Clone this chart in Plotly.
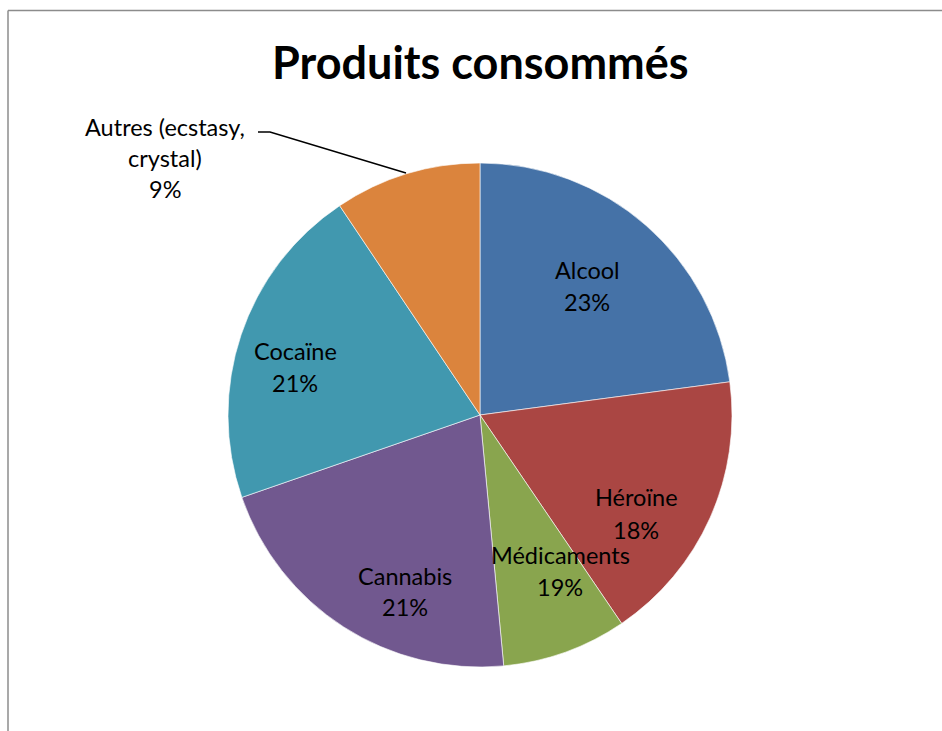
import plotly.graph_objects as go

W, H = 942, 731

categories = ["Alcool", "Héroïne", "Médicaments", "Cannabis", "Cocaïne", "Autres (ecstasy,<br>crystal)"]
values = [22.9, 17.6, 8.0, 21.2, 20.9, 9.4]
shown_pct = ["23%", "18%", "19%", "21%", "21%", "9%"]
colors = ["#4572A7", "#AA4643", "#89A54E", "#71588F", "#4198AF", "#DB843D"]

def px(x):
    return x / W

def py(y):
    return 1 - y / H

fig = go.Figure(go.Pie(
    labels=categories,
    values=values,
    sort=False,
    direction="clockwise",
    rotation=0,
    marker=dict(colors=colors, line=dict(color="rgba(255,255,255,0.6)", width=1)),
    textinfo="none",
    hoverinfo="label+value",
    domain=dict(x=[px(228), px(732)], y=[py(667), py(163)]),
    showlegend=False,
))

# label placement (pixel positions of each line of the data labels)
label_lines = [
    (["Alcool", shown_pct[0]], 587, [270, 302]),
    (["Héroïne", shown_pct[1]], 636, [497, 530]),
    (["Médicaments", shown_pct[2]], 560, [555, 587]),
    (["Cannabis", shown_pct[3]], 405, [576, 607]),
    (["Cocaïne", shown_pct[4]], 295, [351, 383]),
    (["Autres (ecstasy,", "crystal)", shown_pct[5]], 165, [127, 158, 189]),
]

annotations = []
for lines, x, ys in label_lines:
    for t, y in zip(lines, ys):
        annotations.append(dict(
            text=t, x=px(x), y=py(y), xref="paper", yref="paper",
            xanchor="center", yanchor="middle", showarrow=False,
            font=dict(family="Lato, Open Sans, sans-serif", size=23.5, color="#000000"),
        ))

annotations.append(dict(
    text="<b>Produits consommés</b>", x=px(480), y=py(62), xref="paper", yref="paper",
    xanchor="center", yanchor="middle", showarrow=False,
    font=dict(family="Lato, Open Sans, sans-serif", size=45, color="#000000"),
))

shapes = [
    # leader line for "Autres"
    dict(type="path", xref="paper", yref="paper",
         path=f"M {px(258)},{py(132)} L {px(270)},{py(132)} L {px(406)},{py(173)}",
         line=dict(color="#000000", width=1.5)),
    # chart frame
    dict(type="line", xref="paper", yref="paper", x0=px(8), x1=1, y0=py(10.5), y1=py(10.5),
         line=dict(color="#8c8c8c", width=1.5)),
    dict(type="line", xref="paper", yref="paper", x0=px(8), x1=px(8), y0=py(10.5), y1=0,
         line=dict(color="#8c8c8c", width=1.5)),
]

fig.update_layout(
    width=W, height=H,
    margin=dict(l=0, r=0, t=0, b=0),
    paper_bgcolor="#ffffff",
    plot_bgcolor="#ffffff",
    annotations=annotations,
    shapes=shapes,
)

fig.write_html("out.html", config={"displayModeBar": False},
               post_script="document.body.style.margin='0';")
